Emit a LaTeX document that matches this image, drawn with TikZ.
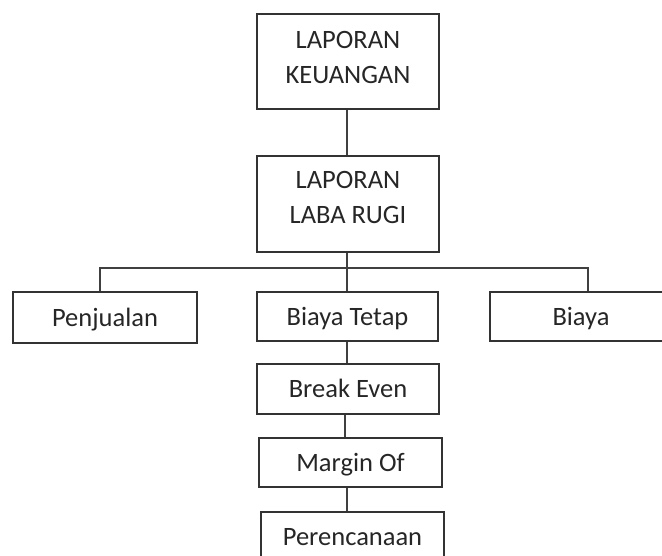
\documentclass[tikz,border=0pt]{standalone}
\usepackage{fontspec}
\setmainfont{Carlito}
\begin{document}
\begin{tikzpicture}[x=1pt,y=-1pt,
  box/.style={draw=black!80, line width=1.7pt, rectangle, inner sep=0pt,
    align=center, text=black!85, font=\fontsize{26.5}{35}\selectfont},
  onebox/.style={box, text height=17pt, text depth=0pt},
  link/.style={draw=black!75, line width=1.7pt}]
\useasboundingbox (0,0) rectangle (662,555);
\clip (0,0) rectangle (662,555);
\node[box, text depth=8pt, minimum width=182pt, minimum height=95pt] (top) at (348,61.5) {LAPORAN\\KEUANGAN};
\node[box, text depth=13pt, minimum width=182pt, minimum height=96pt] (lr) at (348,204) {LAPORAN\\LABA RUGI};
\node[onebox, minimum width=184pt, minimum height=51pt] (penj) at (105,317.5) {Penjualan};
\node[onebox, minimum width=181pt, minimum height=49pt] (bt) at (347.5,316.5) {Biaya Tetap};
\node[onebox, minimum width=182pt, minimum height=49pt] (biaya) at (581,316.5) {Biaya};
\node[onebox, minimum width=182pt, minimum height=50pt] (be) at (348,389) {Break Even};
\node[onebox, minimum width=183pt, minimum height=49pt] (mo) at (350.5,462.5) {Margin Of};
\node[onebox, minimum width=183pt, minimum height=49pt] (per) at (352.5,536.5) {Perencanaan};
\coordinate (bl) at (100,268);
\coordinate (br) at (588,268);
\draw[link] (top.south -| 347,0) -- (lr.north -| 347,0);
\draw[link] (lr.south -| 347,0) -- (bt.north -| 347,0);
\draw[link] (penj.north -| bl) -- (bl) -- (br) -- (biaya.north -| br);
\draw[link] (bt.south -| 347,0) -- (be.north -| 347,0);
\draw[link] (be.south -| 345,0) -- (mo.north -| 345,0);
\draw[link] (mo.south -| 347,0) -- (per.north -| 347,0);
\end{tikzpicture}
\end{document}
